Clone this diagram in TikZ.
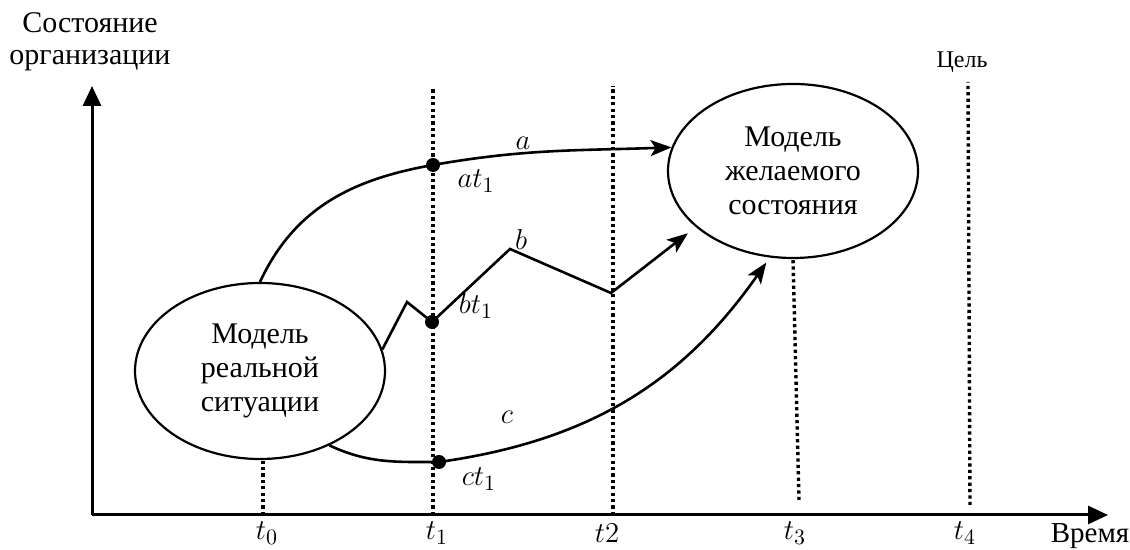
\documentclass[tikz,border=0pt]{standalone}
\usepackage{fontspec}
\setmainfont{Liberation Serif}
\usetikzlibrary{arrows.meta,shapes.geometric}

\begin{document}
\begin{tikzpicture}[x=0.5pt,y=0.5pt,
  axis/.style={line width=1.5pt,-{Triangle[length=10pt,width=9pt]}},
  route/.style={line width=1.3pt,-{Stealth[length=10.5pt,width=8pt,inset=2.5pt]}},
  guide/.style={line width=1.7pt,dash pattern=on 1.6pt off 1.6pt},
  model/.style={draw,ellipse,line width=1.1pt,inner sep=0pt,align=center,
    minimum width=125pt,minimum height=88pt,font=\fontsize{15}{17}\selectfont},
  dot/.style={circle,fill,inner sep=0pt,minimum size=7pt},
  lbl/.style={font=\fontsize{15}{17}\selectfont}
  ]
\useasboundingbox (0,0) rectangle (1130,550);

% AXES
\coordinate (o) at (92,35);
\draw[axis] (o) -- (92,464) coordinate (ytop);
\draw[axis] (o) -- (1108,35) coordinate (xend);
\node[font=\fontsize{15}{16}\selectfont,align=center] (ylab) at (90,508) {Состояние\\организации};
\node[font=\fontsize{14.5}{16}\selectfont] (xlab) at (1090,14) {Время};

% MODELS
\node[model] (real) at (260,179) {Модель\\реальной\\ситуации};
\node[model,minimum height=87pt] (goal) at (793,379) {Модель\\желаемого\\состояния};

% TIME LINES
\coordinate (t0) at (263,35);
\coordinate (t1) at (433,35);
\coordinate (t2) at (613,35);
\coordinate (t3) at (799,50);
\coordinate (t4) at (970,45);
\draw[guide] (t0) -- (t0 |- real.south);
\draw[guide] (t1) -- (433,462);
\draw[guide] (t2) -- (613,464);
\draw[guide] (t3) -- (goal.south);
\draw[guide] (t4) -- (968,468);
\node[lbl] (l0) at (267,17) {$t_0$};
\node[lbl] (l1) at (437,17) {$t_1$};
\node[lbl] (l2) at (607,17) {$t2$};
\node[lbl] (l3) at (795,17) {$t_3$};
\node[lbl] (l4) at (965,17) {$t_4$};
\node[font=\fontsize{12}{13}\selectfont] (aim) at (962,488) {Цель};

% POINTS AT t1
\node[dot] (at1) at (433,385) {};
\node[dot] (bt1) at (432,228) {};
\node[dot] (ct1) at (439,88) {};
\coordinate (b0) at (407,248);
\coordinate (bpeak) at (510,301);
\coordinate (bvalley) at (611,257);

% ARROWS
\draw[route] (real.north) to[out=65,in=190] (at1.center)
  to[out=10,in=182] (goal.169);
\draw[route,shorten >=5pt] (real.10) -- (b0) -- (bt1.center) -- (bpeak)
  -- (bvalley) -- (goal.210);
\draw[route,shorten >=3pt] (real.-47) to[out=-25,in=180] (ct1.center)
  to[out=8,in=-125] (goal.255);

% NOTES
\node[lbl] (la) at (523,407) {$a$};
\node[lbl] (lat) at (476,369) {$at_1$};
\node[lbl] (lb) at (521,310) {$b$};
\node[lbl] (lbt) at (476,244) {$bt_1$};
\node[lbl] (lc) at (507,133) {$c$};
\node[lbl] (lct) at (479,71) {$ct_1$};

\end{tikzpicture}
\end{document}
